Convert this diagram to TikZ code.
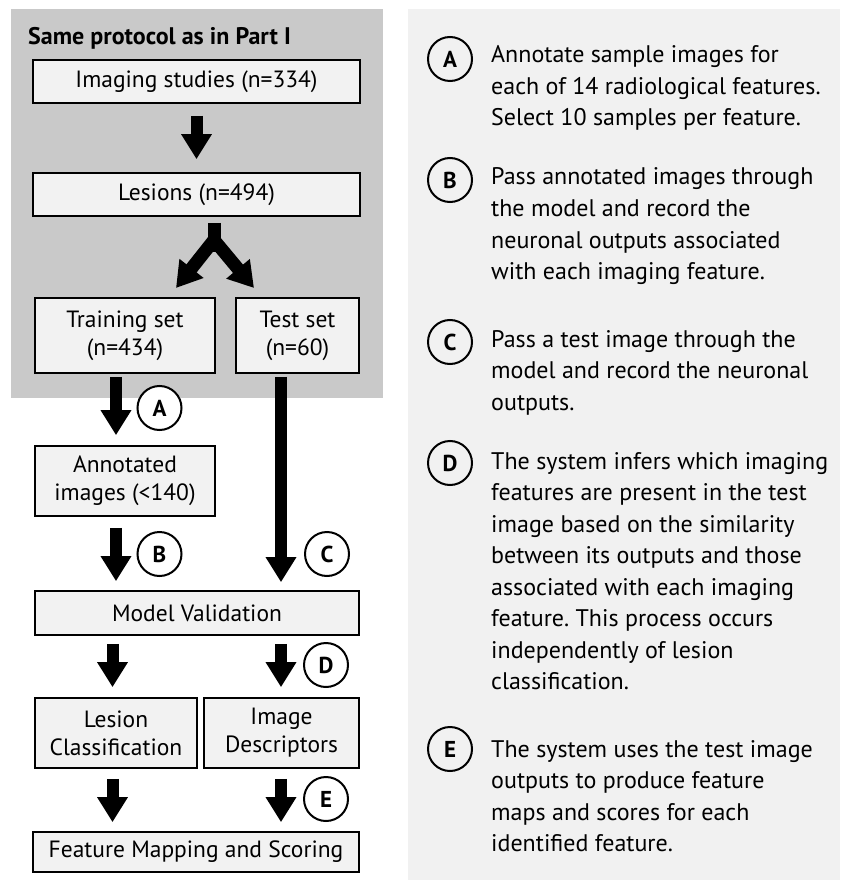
\documentclass[tikz,border=0pt]{standalone}
\usepackage{fontspec}
\setmainfont{PT Sans}
\usetikzlibrary{arrows.meta}
\definecolor{panelL}{HTML}{C9C9C9}
\definecolor{panelR}{HTML}{F1F1F1}
\definecolor{boxfill}{HTML}{F2F2F2}
\frenchspacing
\begin{document}
\begin{tikzpicture}[x=1pt,y=-1pt,
 box/.style={draw=black, line width=1.6pt, fill=boxfill, inner sep=0pt, align=center, font=\fontsize{23.5}{28}\selectfont},
 blk/.style={line width=12pt, -{Triangle[width=29pt,length=25pt]}},
 lbl/.style={circle, draw=black, line width=2pt, minimum size=44pt, inner sep=0pt, font=\bfseries\fontsize{23}{23}\selectfont},
 desc/.style={anchor=base west, align=left, inner sep=0pt, font=\fontsize{24}{31.5}\selectfont}]
\useasboundingbox (0,0) rectangle (843,885);
\fill[white] (0,0) rectangle (843,885);
% panels
\fill[panelL] (11,9) rectangle (383,398);
\fill[panelR] (408,9) rectangle (840,880);
\node[anchor=base west, inner sep=0pt, font=\bfseries\fontsize{24}{26}\selectfont] (title) at (28,45) {Same protocol as in Part I};
% boxes
\node[box, minimum width=327pt, minimum height=43pt] (imaging) at (196.5,81.5) {Imaging studies (n=334)};
\node[box, minimum width=327pt, minimum height=43pt] (lesions) at (196.5,194.5) {Lesions (n=494)};
\node[box, minimum width=180pt, minimum height=75pt] (train) at (125,335.5) {Training set\\(n=434)};
\node[box, minimum width=123pt, minimum height=75pt] (test) at (297.5,335.5) {Test set\\(n=60)};
\node[box, minimum width=180pt, minimum height=70pt] (annot) at (125,481) {Annotated\\images (<140)};
\node[box, minimum width=324pt, minimum height=44pt] (mv) at (197,613) {Model Validation};
\node[box, minimum width=162pt, minimum height=70pt] (lc) at (116,733) {Lesion\\Classification};
\node[box, minimum width=155pt, minimum height=70pt] (id) at (281.5,733) {Image\\Descriptors};
\node[box, minimum width=326pt, minimum height=40pt] (fm) at (196,852) {Feature Mapping and Scoring};
% columns
\coordinate (cM) at (196.5,0);
\coordinate (cA) at (116,0);
\coordinate (cL) at (112.5,0);
\coordinate (cR) at (281,0);
\coordinate (fork) at (214,252);
\coordinate (forkb) at (214,240);
\coordinate (tipL) at (176,288);
\coordinate (tipR) at (254,288);
% arrows
\draw[blk, shorten <=12pt, shorten >=13pt] (imaging.south -| cM) -- (lesions.north -| cM);
\draw[line width=13pt] (lesions.south -| fork) ++(0,6) -- (fork);
\draw[blk, line width=13pt] (forkb) -- (tipL);
\draw[blk, line width=13pt] (forkb) -- (tipR);
\draw[blk, shorten <=3pt, shorten >=10pt] (train.south -| cA) -- (annot.north -| cA);
\draw[blk, shorten <=11pt, shorten >=9pt] (annot.south -| cA) -- (mv.north -| cA);
\draw[blk, shorten <=3pt, shorten >=8pt] (test.south -| cR) -- (mv.north -| cR);
\draw[blk, shorten <=8pt, shorten >=10pt] (mv.south -| cL) -- (lc.north -| cL);
\draw[blk, shorten <=8pt, shorten >=10pt] (mv.south -| cR) -- (id.north -| cR);
\draw[blk, shorten <=10pt, shorten >=9pt] (lc.south -| cL) -- (fm.north -| cL);
\draw[blk, shorten <=10pt, shorten >=9pt] (id.south -| cR) -- (fm.north -| cR);
% step labels
\node[lbl, fill=white] (la) at (159.5,408) {A};
\node[lbl, fill=white] (lb) at (159.5,554) {B};
\node[lbl, fill=white] (lcc) at (327,554) {C};
\node[lbl, fill=white] (ld) at (326,665) {D};
\node[lbl, fill=white] (le) at (326,799) {E};
% right panel
\node[lbl] (ra) at (450,59) {A};
\node[lbl] (rb) at (450,180) {B};
\node[lbl] (rc) at (450,342) {C};
\node[lbl] (rd) at (450,463) {D};
\node[lbl] (re) at (450,749) {E};
\node[desc] (ta) at (491,126) {Annotate sample images for\\each of 14 radiological features.\\Select 10 samples per feature.};
\node[desc] (tb) at (491,279.5) {Pass annotated images through\\the model and record the\\neuronal outputs associated\\with each imaging feature.};
\node[desc] (tc) at (491,410) {Pass a test image through the\\model and record the neuronal\\outputs.};
\node[desc] (td) at (491,689.5) {The system infers which imaging\\features are present in the test\\image based on the similarity\\between its outputs and those\\associated with each imaging\\feature. This process occurs\\independently of lesion\\classification.};
\node[desc] (te) at (491,851.5) {The system uses the test image\\outputs to produce feature\\maps and scores for each\\identified feature.};
\end{tikzpicture}
\end{document}
